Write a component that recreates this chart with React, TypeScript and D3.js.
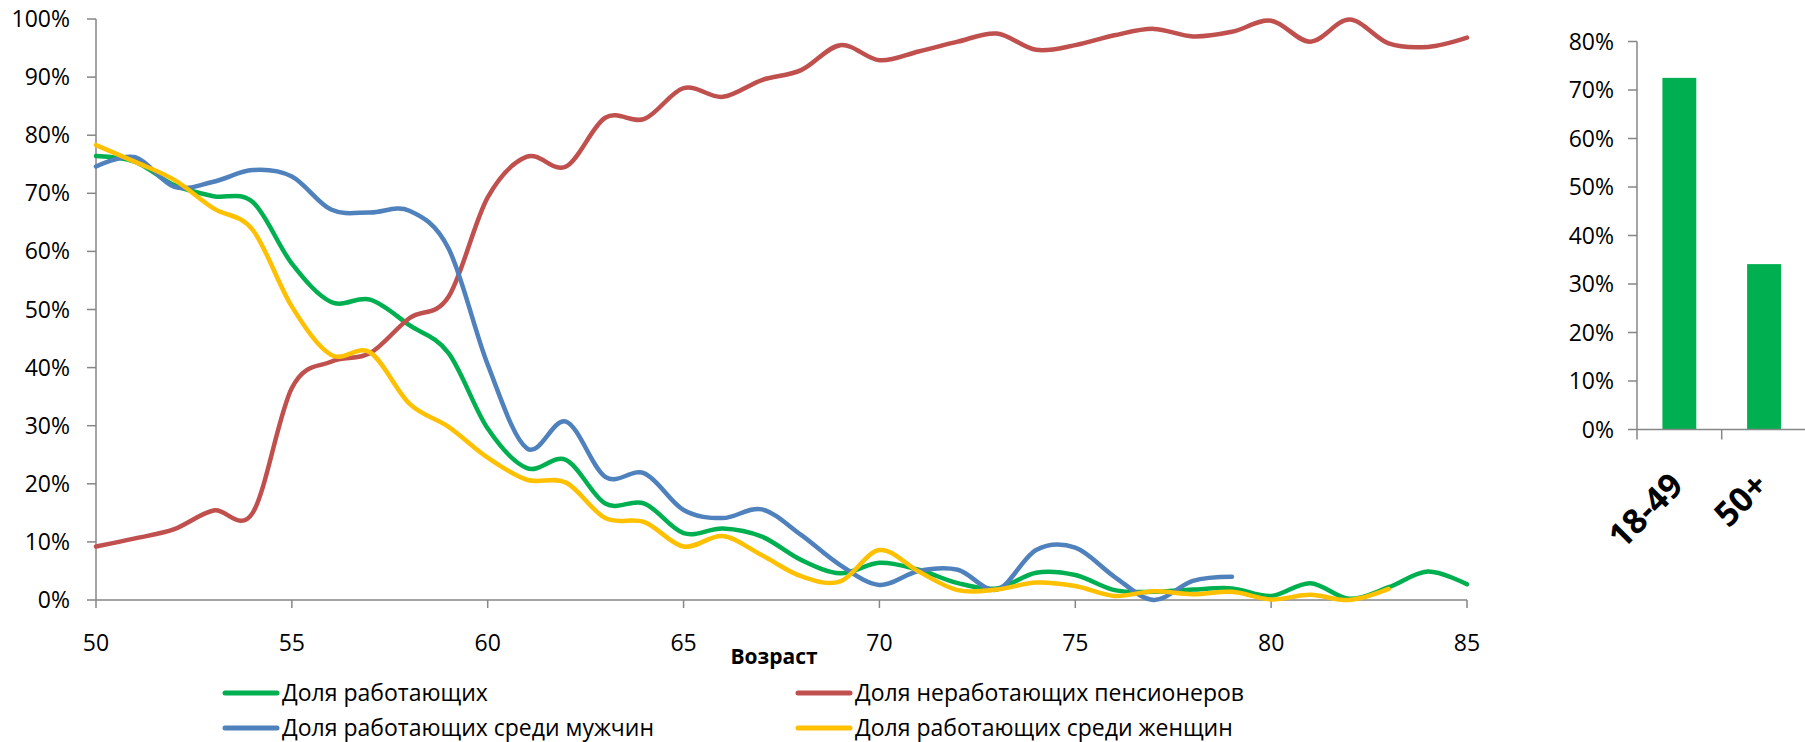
import React from "react";
import * as d3 from "d3";

// ages on the x axis
const ages = [50, 51, 52, 53, 54, 55, 56, 57, 58, 59, 60, 61, 62, 63, 64, 65, 66, 67, 68, 69, 70, 71, 72, 73, 74, 75, 76, 77, 78, 79, 80, 81, 82, 83, 84, 85];

// shares, %
const employed = [76.4, 75.4, 71.4, 69.5, 68.5, 57.9, 51.3, 51.7, 47.3, 42.5, 29.5, 22.7, 24.1, 16.6, 16.6, 11.5, 12.3, 10.9, 6.9, 4.6, 6.4, 5.2, 2.9, 2.0, 4.7, 4.3, 1.7, 1.4, 1.8, 2.0, 0.7, 2.9, 0.2, 2.2, 4.9, 2.7];
const pensioners = [9.2, 10.6, 12.2, 15.4, 15.0, 36.5, 41.0, 42.5, 48.5, 52.2, 69.3, 76.3, 74.6, 83.0, 82.8, 88.1, 86.6, 89.5, 91.2, 95.5, 92.9, 94.4, 96.1, 97.5, 94.7, 95.5, 97.2, 98.3, 97.0, 97.8, 99.7, 96.1, 99.9, 95.8, 95.2, 96.8];
const employedMen = [74.6, 76.2, 71.1, 72.0, 74.0, 72.9, 67.2, 66.7, 67.0, 60.5, 40.5, 26.1, 30.7, 21.2, 21.8, 15.5, 14.1, 15.6, 11.2, 6.0, 2.6, 5.0, 5.2, 1.8, 8.6, 9.0, 4.0, 0.0, 3.3, 4.0, null, null, null, null, null, null];
const employedWomen = [78.3, 75.4, 72.3, 67.4, 63.7, 50.5, 42.2, 42.6, 33.8, 29.8, 24.5, 20.7, 20.2, 14.1, 13.4, 9.2, 11.0, 7.7, 4.1, 3.2, 8.6, 4.9, 1.7, 1.8, 3.0, 2.4, 0.7, 1.5, 1.0, 1.4, 0.1, 0.9, 0.0, 1.9, null, null];

const seriesNames = ["Доля работающих", "Доля неработающих пенсионеров", "Доля работающих среди мужчин", "Доля работающих среди женщин"];
const seriesColors = ["#00B050", "#C0504D", "#4F81BD", "#FFC000"];

const xTicks = [50, 55, 60, 65, 70, 75, 80, 85];
const yTicks = [0, 10, 20, 30, 40, 50, 60, 70, 80, 90, 100];

// small bar chart
const barCats = ["18-49", "50+"];
const barValues = [72.5, 34.1];
const barTicks = [0, 10, 20, 30, 40, 50, 60, 70, 80];

const W = 1805;
const H = 742;
const FONT = "'Open Sans', sans-serif";
const AXIS = "#868686";

const App = () => {
    const x = d3.scaleLinear().domain([50, 85]).range([96, 1467]);
    const y = d3.scaleLinear().domain([0, 100]).range([600, 19]);

    const line = d3
        .line<number | null>()
        .defined((d) => d !== null)
        .x((d, i) => x(ages[i]))
        .y((d) => y(d as number))
        .curve(d3.curveCardinal.tension(0));

    const all = [employed, pensioners, employedMen, employedWomen];

    const yb = d3.scaleLinear().domain([0, 80]).range([429.5, 41.5]);
    const xb = d3.scaleBand().domain(barCats).range([1637, 1806.4]);
    const bw = xb.bandwidth();

    return (
        <svg width={W} height={H} style={{ position: "absolute", left: 0, top: 0, background: "#fff" }} fontFamily={FONT}>
            {/* main chart axes */}
            <g stroke={AXIS} strokeWidth={1.5}>
                <line x1={96} x2={96} y1={y(100)} y2={y(0)} />
                <line x1={96} x2={x(85)} y1={y(0)} y2={y(0)} />
                {yTicks.map((t) => (
                    <line key={t} x1={87} x2={96} y1={y(t)} y2={y(t)} />
                ))}
                {xTicks.map((t) => (
                    <line key={t} x1={x(t)} x2={x(t)} y1={y(0)} y2={y(0) + 8} />
                ))}
            </g>
            <g fontSize={23} fill="#000">
                {yTicks.map((t) => (
                    <text key={t} x={70} y={y(t)} dy="0.35em" textAnchor="end">
                        {t}%
                    </text>
                ))}
                {xTicks.map((t) => (
                    <text key={t} x={x(t)} y={651} textAnchor="middle">
                        {t}
                    </text>
                ))}
            </g>
            <text x={774} y={664} textAnchor="middle" fontSize={21} fontWeight="bold">
                Возраст
            </text>

            {/* lines */}
            <g fill="none" strokeWidth={4.5} strokeLinejoin="round" strokeLinecap="round">
                {all.map((s, i) => (
                    <path key={i} d={line(s) || ""} stroke={seriesColors[i]} />
                ))}
            </g>

            {/* legend */}
            <g fontSize={23}>
                {seriesNames.map((n, i) => {
                    const lx = i % 2 === 0 ? 225 : 798;
                    const ly = i < 2 ? 693 : 728;
                    return (
                        <g key={n}>
                            <line x1={lx} x2={lx + 52} y1={ly} y2={ly} stroke={seriesColors[i]} strokeWidth={5} strokeLinecap="round" />
                            <text x={lx + 57} y={ly} dy="0.33em">
                                {n}
                            </text>
                        </g>
                    );
                })}
            </g>

            {/* bar chart */}
            <g>
                {barCats.map((c, i) => (
                    <rect key={c} x={(xb(c) as number) + bw * 0.3} width={bw * 0.4} y={yb(barValues[i])} height={yb(0) - yb(barValues[i])} fill="#00B050" />
                ))}
            </g>
            <g stroke={AXIS} strokeWidth={1.5}>
                <line x1={1637} x2={1637} y1={yb(80)} y2={yb(0) + 10} />
                <line x1={1637} x2={1806} y1={yb(0)} y2={yb(0)} />
                {barTicks.map((t) => (
                    <line key={t} x1={1628} x2={1637} y1={yb(t)} y2={yb(t)} />
                ))}
                {barCats.map((c) => (
                    <line key={c} x1={(xb(c) as number) + bw} x2={(xb(c) as number) + bw} y1={yb(0)} y2={yb(0) + 10} />
                ))}
            </g>
            <g fontSize={23}>
                {barTicks.map((t) => (
                    <text key={t} x={1614} y={yb(t)} dy="0.35em" textAnchor="end">
                        {t}%
                    </text>
                ))}
            </g>
            <g fontSize={34} fontWeight="bold">
                {barCats.map((c) => {
                    const cx = (xb(c) as number) + bw / 2;
                    return (
                        <text key={c} transform={`translate(${cx + 6},${yb(0) + 58}) rotate(-45)`} textAnchor="end">
                            {c}
                        </text>
                    );
                })}
            </g>
        </svg>
    );
};

export default App;
